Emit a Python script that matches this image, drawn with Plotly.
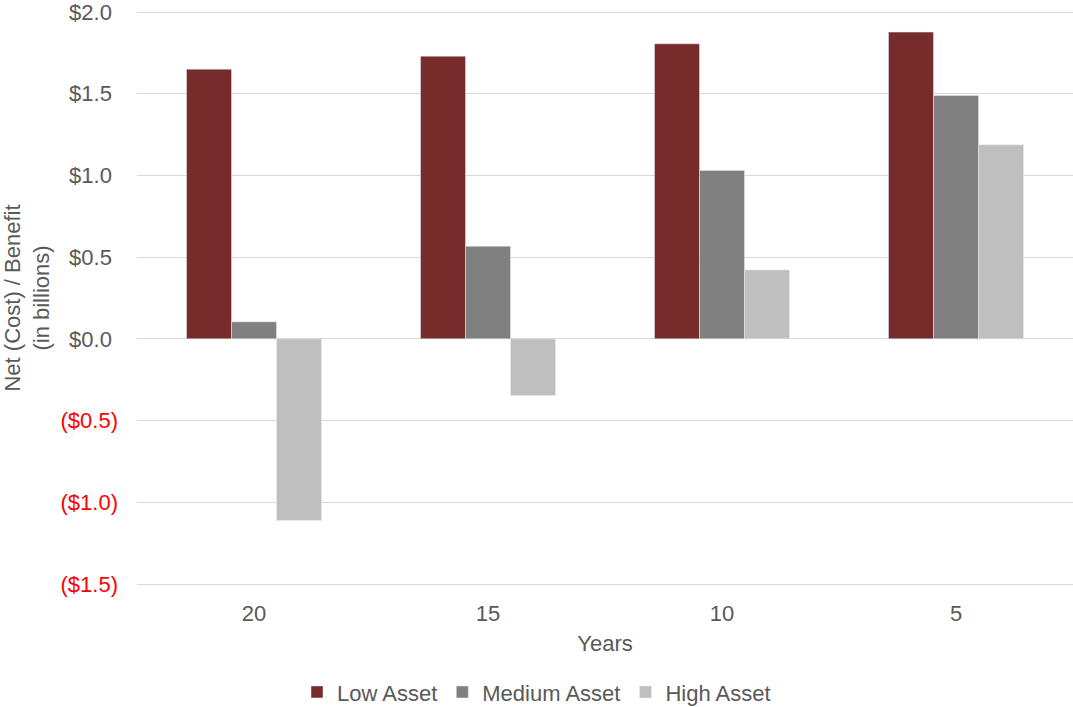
import plotly.graph_objects as go

# Horizon (years) and net cost/benefit per asset scenario, $ billions
years = ["20", "15", "10", "5"]
low_asset = [1.650, 1.730, 1.805, 1.877]
medium_asset = [0.104, 0.567, 1.030, 1.489]
high_asset = [-1.112, -0.347, 0.422, 1.187]

tick_values = [2.0, 1.5, 1.0, 0.5, 0.0, -0.5, -1.0, -1.5]
tick_labels = ["$2.0", "$1.5", "$1.0", "$0.5", "$0.0", "($0.5)", "($1.0)", "($1.5)"]

TEXT = "#595959"
GRID = "#D9D9D9"

# accounting style: negatives in red, positives padded to align with ")"
styled_ticks = [
    f"<span style='color:#FF0000'>{t}</span>" if v < 0 else t + "\u00a0"
    for v, t in zip(tick_values, tick_labels)
]

fig = go.Figure()
fig.add_trace(go.Bar(name="Low Asset", x=years, y=low_asset, marker_color="#772B2B"))
fig.add_trace(go.Bar(name="Medium Asset", x=years, y=medium_asset, marker_color="#808080"))
fig.add_trace(go.Bar(name="High Asset", x=years, y=high_asset, marker_color="#BFBFBF"))

fig.update_layout(
    width=1073,
    height=707,
    margin=dict(l=137, r=0, t=10, b=121),
    paper_bgcolor="white",
    plot_bgcolor="white",
    font=dict(family="Liberation Sans, Arial, sans-serif", size=22, color=TEXT),
    barmode="group",
    bargap=0.423,
    bargroupgap=0,
    showlegend=True,
    legend=dict(
        orientation="h",
        xref="container",
        yref="container",
        x=0.5,
        xanchor="center",
        y=0.021,
        yanchor="middle",
        font=dict(size=22, color=TEXT),
        itemwidth=30,
    ),
    xaxis=dict(
        type="category",
        showgrid=False,
        showline=False,
        zeroline=False,
        ticks="",
        ticklabelstandoff=12,
        title=dict(text="Years", standoff=10, font=dict(size=22, color=TEXT)),
    ),
    yaxis=dict(
        # a little padding so the $2.0 and ($1.5) gridlines are not clipped
        range=[-1.51225, 2.01225],
        tickvals=tick_values,
        ticktext=styled_ticks,
        ticklabeloverflow="allow",
        showgrid=True,
        gridcolor=GRID,
        gridwidth=1,
        zeroline=True,
        zerolinecolor=GRID,
        zerolinewidth=1,
        showline=False,
        ticks="",
        ticklabelstandoff=18,
        title=dict(
            text="Net (Cost) / Benefit<br>(in billions)",
            standoff=8,
            font=dict(size=22, color=TEXT),
        ),
    ),
)

fig.write_html("out.html")
